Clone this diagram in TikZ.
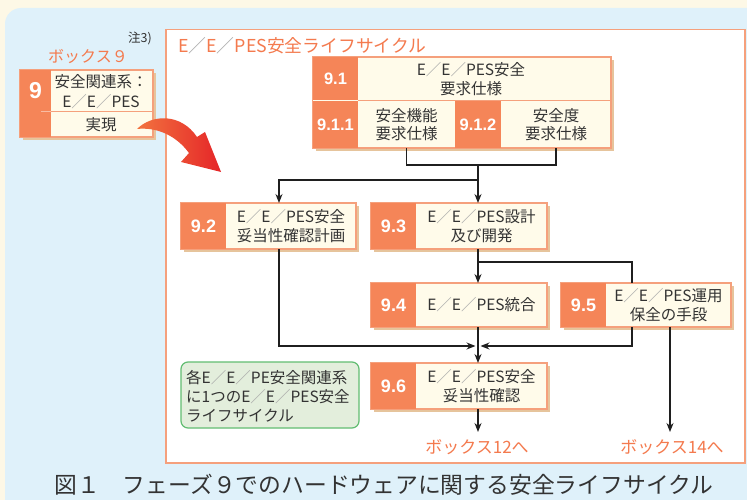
\documentclass[tikz,border=0pt]{standalone}
\usepackage{fontspec}
\setmainfont{Noto Sans CJK JP}
\newfontfamily\numfont{Liberation Sans}
\usetikzlibrary{arrows.meta,calc}
\definecolor{bgcream}{HTML}{FDF8E6}
\definecolor{bgblue}{HTML}{DFF1FA}
\definecolor{ora}{HTML}{F58558}
\definecolor{bord}{HTML}{F5A07C}
\definecolor{cream}{HTML}{FFFBEA}
\definecolor{shad}{HTML}{E6C49C}
\definecolor{titc}{HTML}{F47A4E}
\definecolor{ink}{HTML}{333333}
\definecolor{slashc}{HTML}{A8A8A8}
\definecolor{notef}{HTML}{E3EEDC}
\definecolor{noted}{HTML}{62BD72}
\definecolor{arrA}{HTML}{F2733F}
\definecolor{arrB}{HTML}{E52528}
\newcommand{\sls}{\textcolor{slashc}{／}}
\newcommand{\flowbox}[8]{%
  \fill[shad] ({#2+3},{#3+3}) rectangle ({#4+3},{#5+3});
  \node[cellbox,anchor=north west,minimum width={#4-#2},minimum height={#5-#3}] (#1) at (#2,#3) {};
  \fill[ora] (#2,#3) rectangle (#6,#5);
  \node[numtxt] (#1n) at ({(#2+#6)/2},{(#3+#5)/2}) {#7};
  \node[celltxt] (#1t) at ({(#6+#4)/2},{(#3+#5)/2}) {#8};
}
\begin{document}
\begin{tikzpicture}[x=1pt,y=-1pt,
  cellbox/.style={draw=bord,line width=1.2pt,fill=cream,inner sep=0,outer sep=0},
  numtxt/.style={text=white,font=\numfont\bfseries\fontsize{18}{18}\selectfont,inner sep=0},
  smallnum/.style={numtxt,font=\numfont\bfseries\fontsize{16.5}{16.5}\selectfont},
  celltxt/.style={text=ink,font=\fontsize{15.5}{18.5}\selectfont,align=center,inner sep=0},
  line/.style={draw=black!88,line width=1.3pt},
  arr/.style={line,-{Stealth[length=9pt,width=7pt]}},
  lbl/.style={text=titc,inner sep=0},
  note/.style={draw=noted,line width=1.2pt,fill=notef,rounded corners=7pt,inner sep=0,outer sep=0}]
\useasboundingbox (0,0) rectangle (747,500);
\fill[bgcream] (0,0) rectangle (747,500);
\fill[bgblue,rounded corners=16pt] (5,8) rectangle (770,530);
% frame
\node[draw=bord,line width=1.5pt,fill=white,anchor=north west,minimum width=579,minimum height=433,inner sep=0] (frame) at (165,29) {};
\node[lbl,anchor=west,font=\fontsize{17.8}{17.8}\selectfont] (title) at (178,46) {E\sls E\sls PES安全ライフサイクル};
% box 9
\node[lbl,font=\fontsize{16}{16}\selectfont] (box9lbl) at (88,57) {ボックス９};
\node[text=ink,inner sep=0,font=\fontsize{12.5}{12.5}\selectfont] (note3) at (140,38) {注3)};
\fill[shad] (23,73) rectangle (156,140);
\node[cellbox,anchor=north west,minimum width=133,minimum height=67] (b9) at (20,70) {};
\fill[ora] (20,70) rectangle (51,137);
\draw[bord,line width=1pt] (51,112) -- (153,112);
\draw[ora!55!white,line width=1pt] (41,112) -- (51,112);
\node[numtxt,font=\numfont\bfseries\fontsize{23}{23}\selectfont] (b9n) at (35.5,91) {9};
\node[celltxt,font=\fontsize{15.5}{19.5}\selectfont] (b9t) at (101,91.5) {安全関連系：\\E\sls E\sls PES};
\node[celltxt,font=\fontsize{15.5}{19}\selectfont] (b9r) at (101,125) {実現};
% red curved arrow
\shade[left color=arrA,right color=arrB]
  (137,129) .. controls (152,114) and (181,113) .. (197,137)
  -- (205,132) -- (221,172) -- (181,162) -- (189,153)
  .. controls (175,134) and (155,127) .. (137,129) -- cycle;
% box 9.1
\fill[shad] (316,60) rectangle (614,151);
\node[cellbox,anchor=north west,minimum width=298,minimum height=91] (b91) at (313,57) {};
\fill[ora] (313,57) rectangle (358,148);
\fill[ora] (455,101) rectangle (501,148);
\draw[bord,line width=1pt] (358,101) -- (611,101);
\draw[cream,line width=1pt] (313,101) -- (358,101);
\node[smallnum] (b91n) at (335.5,79) {9.1};
\node[celltxt] (b91t) at (471,79) {E\sls E\sls PES安全\\要求仕様};
\node[smallnum] (b911n) at (335.5,124.5) {9.1.1};
\node[celltxt] (b911) at (406.5,124.5) {安全機能\\要求仕様};
\node[smallnum] (b912n) at (478,124.5) {9.1.2};
\node[celltxt] (b912) at (556,124.5) {安全度\\要求仕様};
% other boxes
\flowbox{b92}{181}{203}{356}{249}{226}{9.2}{E\sls E\sls PES安全\\妥当性確認計画}
\flowbox{b93}{371}{203}{547}{249}{416}{9.3}{E\sls E\sls PES設計\\及び開発}
\flowbox{b94}{371}{283}{547}{327}{416}{9.4}{E\sls E\sls PES統合}
\flowbox{b95}{561}{283}{731}{327}{606}{9.5}{E\sls E\sls PES運用\\保全の手段}
\flowbox{b96}{371}{363}{547}{409}{416}{9.6}{E\sls E\sls PES安全\\妥当性確認}
% note
\node[note,anchor=north west,minimum width=178,minimum height=66] (notebox) at (181,362) {};
\node[text=ink,anchor=west,align=left,inner sep=0,font=\fontsize{15.5}{19}\selectfont] (notet) at (186,396) {各E\sls E\sls PE安全関連系\\に1つのE\sls E\sls PES安全\\ライフサイクル};
% connectors
\coordinate (col) at (478,0);
\coordinate (c92) at (279,0);
\coordinate (c95a) at (632,0);
\coordinate (c95b) at (670,0);
\coordinate (j1) at (478,165);
\coordinate (j2) at (478,180);
\coordinate (j3) at (478,262);
\coordinate (j4) at (478,346);
\coordinate (e12) at (478,432);
\coordinate (e14) at (670,432);
\draw[line] (b911 |- b91.south) |- (j1) -| (b912 |- b91.south);
\draw[arr] (j1) -- (col |- b93.north);
\draw[arr] (j2) -| (c92 |- b92.north);
\draw[line] (col |- b93.south) -- (j3);
\draw[arr] (j3) -- (col |- b94.north);
\draw[line] (j3) -| (c95a |- b95.north);
\draw[arr] (c92 |- b92.south) |- ([xshift=-2.5pt]j4);
\draw[arr] (c95a |- b95.south) |- ([xshift=2.5pt]j4);
\draw[arr] (col |- b94.south) -- (col |- b96.north);
\draw[arr] (col |- b96.south) -- (e12);
\draw[arr] (c95b |- b95.south) -- (e14);
\node[lbl,font=\fontsize{17}{17}\selectfont] (to12) at (477,447) {ボックス12へ};
\node[lbl,font=\fontsize{17}{17}\selectfont] (to14) at (672,447) {ボックス14へ};
% caption
\node[text=ink,inner sep=0,font=\fontsize{22.8}{22.8}\selectfont] (cap) at (384,485) {図１　フェーズ９でのハードウェアに関する安全ライフサイクル};
\end{tikzpicture}
\end{document}
